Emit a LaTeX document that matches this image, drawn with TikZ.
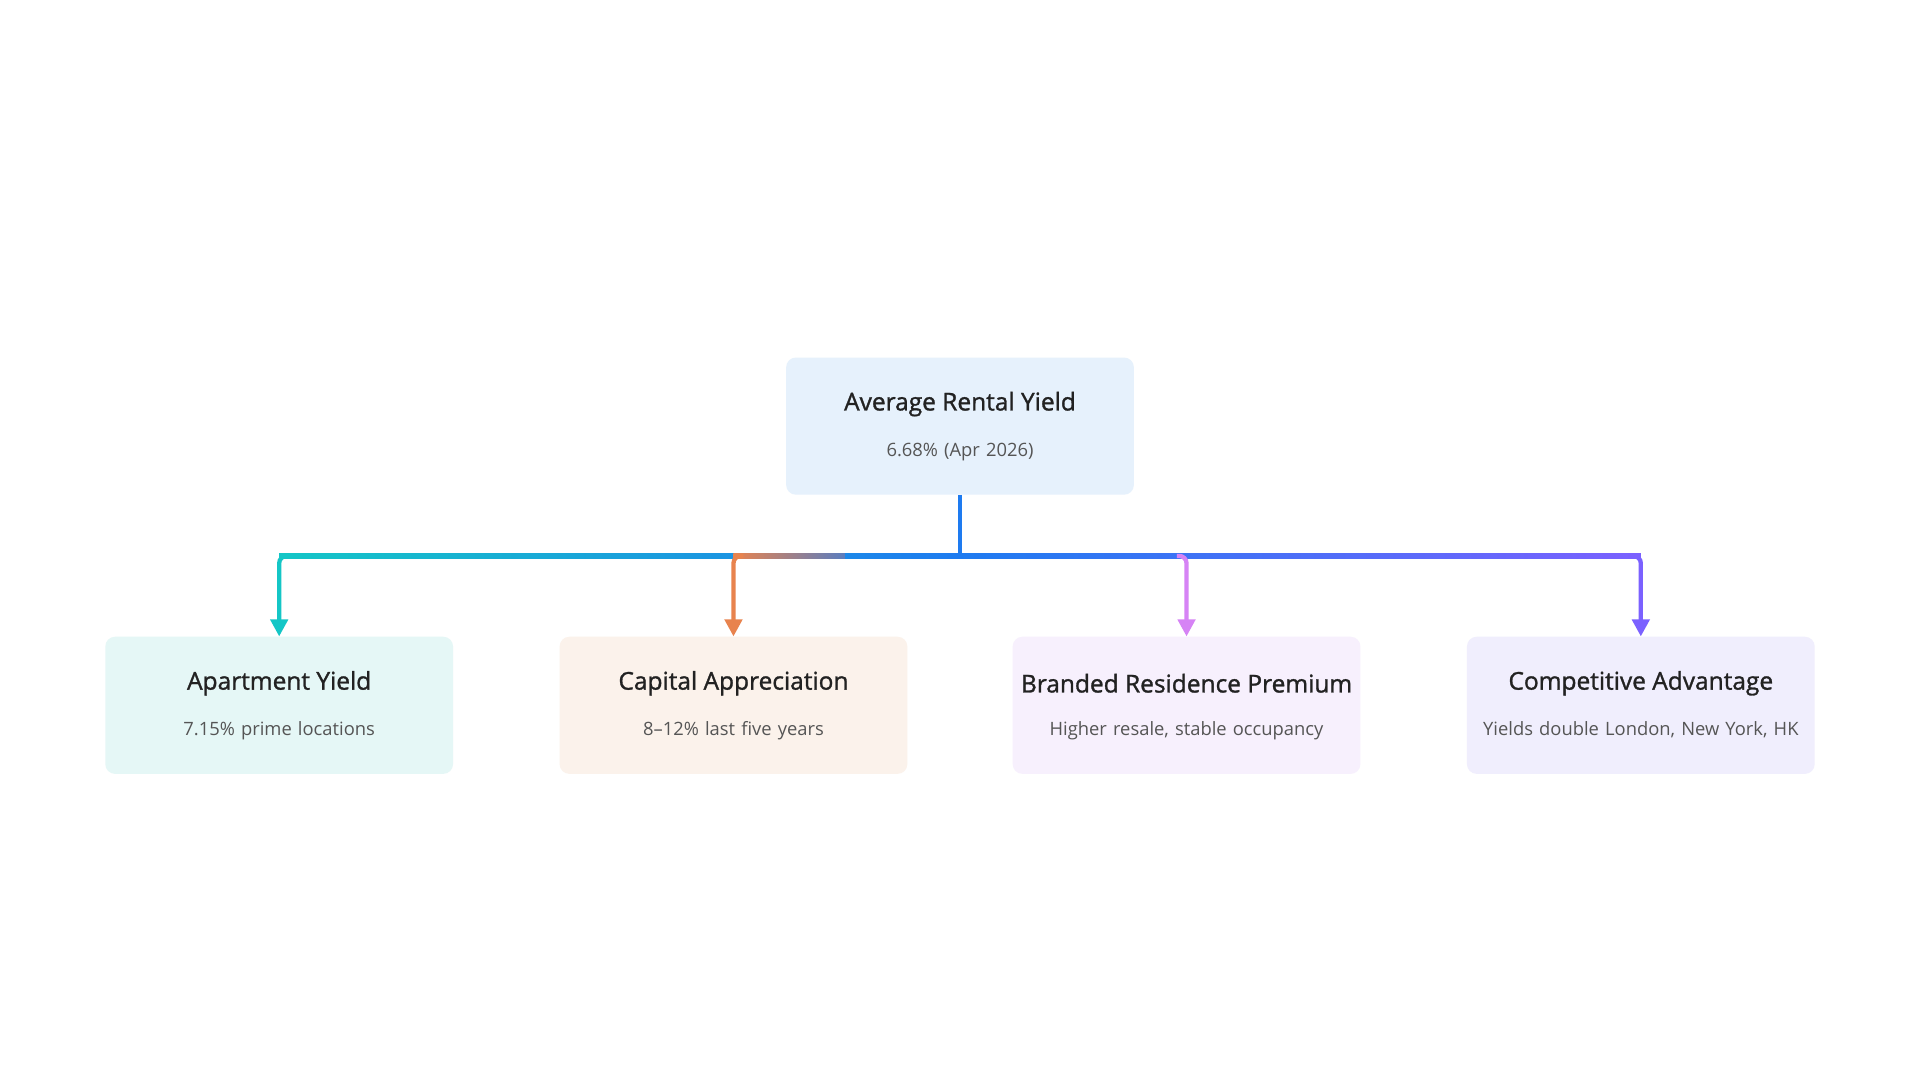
\documentclass[tikz,border=0pt]{standalone}
\usepackage{fontspec}
\setmainfont{Open Sans}
\newfontfamily\semib{Open Sans}[FakeBold=1.2]
\usetikzlibrary{arrows.meta}
\definecolor{cteal}{HTML}{14C6C6}\definecolor{corange}{HTML}{E8834E}
\definecolor{cpink}{HTML}{D683F5}\definecolor{cpurple}{HTML}{7B61FF}
\definecolor{cblue}{HTML}{1E7BF0}
\definecolor{froot}{HTML}{E6F1FC}\definecolor{fteal}{HTML}{E5F7F6}
\definecolor{forange}{HTML}{FBF2EB}\definecolor{fpink}{HTML}{F7F0FD}
\definecolor{fpurple}{HTML}{F0EEFD}
\definecolor{ttl}{HTML}{222222}\definecolor{sub}{HTML}{555555}
\tikzset{box/.style={rounded corners=8pt,minimum width=284pt,minimum height=112pt,inner sep=0pt},
 ttlt/.style={font=\semib\fontsize{20}{24}\selectfont,text=ttl},
 subt/.style={font=\fontsize{15}{19}\selectfont,text=sub,align=center,text width=260pt},
 arr/.style={line width=3.5pt,-{Triangle[length=14pt,width=14pt]},rounded corners=6pt}}
\begin{document}
\begin{tikzpicture}[x=1pt,y=-1pt]
\useasboundingbox[fill=white] (0,0) rectangle (1568,882);
\node[box,fill=froot] (r) at (784,348) {};
\node[ttlt] (rt) at (784,330) {Average Rental Yield};
\node[subt] (rs) at (784,369) {6.68\% (Apr 2026)};
\foreach \n/\x/\f/\t/\s in {a/228/fteal/Apartment Yield/7.15\% prime locations,
 b/599/forange/Capital Appreciation/8–12\% last five years,
 c/969/fpink/Branded Residence Premium/{Higher resale, stable occupancy},
 d/1340/fpurple/Competitive Advantage/{Yields double London, New York, HK}}{
 \node[box,fill=\f] (\n) at (\x,576) {};
 \node[ttlt] (\n t) at (\x,558) {\t};
 \node[subt,anchor=north] (\n s) at (\x,586) {\s};
}
\coordinate (bj) at (784,454);
\shade[left color=cteal,right color=cblue] (228,452.25) rectangle (784,455.75);
\shade[left color=cblue,right color=cpurple] (784,452.25) rectangle (1340,455.75);
\shade[left color=corange,right color=cblue!70!corange] (599,452.25) rectangle (690,455.75);
\draw[line width=3.5pt,cblue,rounded corners=6pt] (r.south) -- (bj);
\draw[arr,cteal] (236,454) -- (228,454) -- (a.north);
\draw[arr,corange] (607,454) -- (599,454) -- (b.north);
\draw[arr,cpink] (961,454) -- (969,454) -- (c.north);
\draw[arr,cpurple] (1332,454) -- (1340,454) -- (d.north);
\end{tikzpicture}
\end{document}
